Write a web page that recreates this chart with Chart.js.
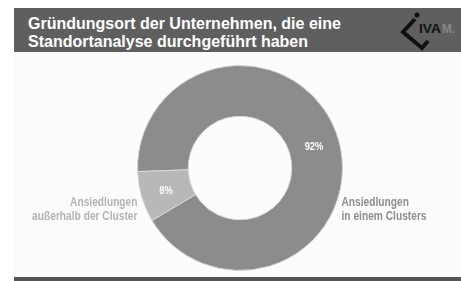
<!DOCTYPE html>
<html>
<head>
<meta charset="utf-8">
<script src="https://cdn.jsdelivr.net/npm/chart.js@4"></script>
<style>
    html, body { margin: 0; padding: 0; background: #fff; }
    #wrap { position: relative; width: 461px; height: 281px; background: #fff; overflow: hidden; }
    #panel { position: absolute; left: 14px; top: 52px; width: 447px; height: 225px; background: #fcfcfc; }
    #header { position: absolute; left: 14px; top: 8px; width: 447px; height: 44px; background: #5f5f5f; }
    #title { position: absolute; left: 14px; top: 7px; color: #fff; font: bold 16px "Liberation Sans", Arial, sans-serif; line-height: 18px; }
    #logo { position: absolute; left: 374px; top: 0; width: 73px; height: 44px; }
    #footer { position: absolute; left: 14px; top: 277px; width: 447px; height: 4px; background: #555; }
    canvas { position: absolute; left: 0; top: 0; }
</style>
</head>
<body>
<div id="wrap">
    <div id="panel"></div>
    <div id="header">
        <div id="title">Gründungsort der Unternehmen, die eine<br>Standortanalyse durchgeführt haben</div>
        <svg id="logo" width="73" height="44" viewBox="0 0 73 44">
            <polyline points="27,11 15,24 34,40 40,33" fill="none" stroke="#111" stroke-width="4" stroke-linejoin="miter"/>
            <circle cx="29" cy="7" r="2.5" fill="#111"/>
            <text x="31" y="25" font-family="Liberation Sans, Arial" font-weight="bold" font-size="12" textLength="22" lengthAdjust="spacingAndGlyphs" fill="#111">IVA</text>
            <text x="54" y="25" font-family="Liberation Sans, Arial" font-weight="bold" font-size="12" textLength="13" lengthAdjust="spacingAndGlyphs" fill="#888">M.</text>
        </svg>
    </div>
    <div id="footer"></div>
    <canvas id="chart" width="461" height="281"></canvas>
</div>
<script>
// data
let categories = ["Ansiedlungen\nin einem Clusters", "Ansiedlungen\naußerhalb der Cluster"];
let values = [92, 8];
let percentLabels = ["92%", "8%"];
let sliceColors = ["#8c8c8c", "#b8b8b8"];
let labelColors = ["#8e8e8e", "#b3b3b3"];

// narrow look: squeeze text horizontally
function narrowText(ctx, text, x, y, align, squeeze) {
    ctx.save();
    ctx.translate(x, y);
    ctx.scale(squeeze, 1);
    ctx.textAlign = align;
    ctx.fillText(text, 0, 0);
    ctx.restore();
}

// labels drawn from the arcs the library places
const sliceLabels = {
    id: 'sliceLabels',
    afterDatasetsDraw(chart) {
        let ctx = chart.ctx;
        let area = chart.chartArea;
        let cy = (area.top + area.bottom) / 2;
        let arcs = chart.getDatasetMeta(0).data;
        ctx.save();
        ctx.textBaseline = "middle";
        arcs.forEach((arc, i) => {
            // percent inside the ring
            let p = arc.tooltipPosition();
            ctx.fillStyle = "#fff";
            ctx.font = 'bold 11px "Liberation Sans", Arial, sans-serif';
            narrowText(ctx, percentLabels[i], p.x, p.y + 1, "center", 0.85);

            // category name beside the ring
            let mid = (arc.startAngle + arc.endAngle) / 2;
            let right = Math.cos(mid) > 0;
            ctx.fillStyle = labelColors[i];
            ctx.font = 'bold 12px "Liberation Sans", Arial, sans-serif';
            let x = right ? arc.x + arc.outerRadius - 1 : arc.x - arc.outerRadius;
            categories[i].split("\n").forEach((line, j) => {
                narrowText(ctx, line, x, cy + 35 + j * 14, right ? "left" : "right", 0.85);
            });
        });
        ctx.restore();
    }
};

new Chart(document.getElementById('chart').getContext('2d'), {
    type: 'doughnut',
    data: {
        labels: categories,
        datasets: [{
            data: values,
            backgroundColor: sliceColors,
            borderColor: '#d8d8d8',
            borderWidth: 1
        }]
    },
    options: {
        responsive: false,
        animation: false,
        cutout: '50.5%',
        rotation: 268,
        layout: { padding: { left: 137, right: 118, top: 65, bottom: 10 } },
        plugins: {
            legend: { display: false },
            tooltip: { enabled: false }
        }
    },
    plugins: [sliceLabels]
});
</script>
</body>
</html>
